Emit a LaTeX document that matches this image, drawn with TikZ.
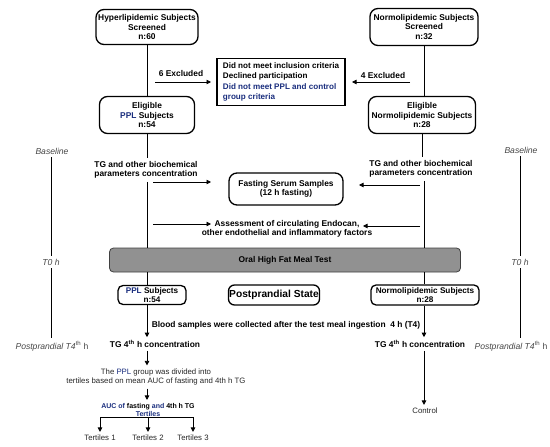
\documentclass[tikz,border=0pt]{standalone}
\usepackage{fontspec}
\setmainfont{Liberation Sans}
\usetikzlibrary{arrows.meta}
\definecolor{navy}{RGB}{25,45,125}
\definecolor{lblgray}{RGB}{70,70,70}
\definecolor{barfill}{RGB}{145,145,145}
\begin{document}
\begin{tikzpicture}[x=1pt,y=-1pt,
  every node/.style={font=\fontsize{8.4}{9.6}\selectfont\bfseries, inner sep=0pt},
  rbox/.style={draw, line width=1.3pt, rounded corners=8pt, align=center},
  sbox/.style={draw, line width=1.3pt, rounded corners=5pt, align=center},
  txt/.style={align=center, inner sep=3pt},
  lbl/.style={font=\fontsize{8.6}{10}\selectfont\itshape, text=lblgray, inner sep=3pt},
  plain/.style={font=\fontsize{7.8}{9.5}\selectfont, align=center, text=black!85, inner sep=3pt},
  conn/.style={line width=0.8pt},
  arr/.style={line width=0.8pt, -{Triangle[width=4.5pt,length=4.5pt]}},
]
\useasboundingbox (0,0) rectangle (550,447);

% axis x positions
\coordinate (lx) at (147,0);
\coordinate (rx) at (424,0);

% top boxes
\node[rbox, minimum width=102pt, minimum height=35pt] (hyper) at (147,27) {Hyperlipidemic Subjects\\Screened\\n:60};
\node[rbox, minimum width=108pt, minimum height=37pt] (normo) at (424,27) {Normolipidemic Subjects\\Screened\\n:32};

% exclusion
\node[draw, line width=1.3pt, minimum width=128pt, minimum height=47pt, inner xsep=4pt, align=left,
      font=\fontsize{8.1}{10.3}\selectfont\bfseries] (excl) at (281,82)
  {Did not meet inclusion criteria\\Declined participation\\\textcolor{navy}{Did not meet PPL and control}\\\textcolor{navy}{group criteria}};
\node (ex6) at (181,73) {6 Excluded};
\node (ex4) at (383,75) {4 Excluded};
\coordinate (e6a) at (155,82); \coordinate (e6b) at (211,82);
\coordinate (e4a) at (410,82); \coordinate (e4b) at (352,82);
\draw[arr] (e6a) -- (e6b);
\draw[arr] (e4a) -- (e4b);

% eligible
\node[rbox, minimum width=95pt, minimum height=37pt] (elig) at (147,115) {Eligible\\\textcolor{navy}{PPL} Subjects\\n:54};
\node[rbox, minimum width=107pt, minimum height=37pt] (eligN) at (422,115) {Eligible\\Normolipidemic Subjects\\n:28};

\draw[conn] (hyper.south) -- (elig.north);
\draw[conn] (normo.south) -- (normo.south |- eligN.north);

% TG text
\node[txt] (tgL) at (146,170) {TG and other biochemical\\parameters concentration};
\node[txt] (tgR) at (421,169) {TG and other biochemical\\parameters concentration};
\draw[conn] (elig.south) -- (elig.south |- tgL.north);
\draw[conn] (eligN.south) -- (eligN.south |- tgR.north);

% fasting
\node[rbox, minimum width=114pt, minimum height=32pt] (fast) at (286,189) {Fasting Serum Samples\\(12 h fasting)};
\coordinate (f1a) at (153,182); \coordinate (f1b) at (211,182);
\coordinate (f2a) at (420,185); \coordinate (f2b) at (359,185);
\draw[arr] (f1a) -- (f1b);
\draw[arr] (f2a) -- (f2b);

\node[txt] (assess) at (287,229) {Assessment of circulating Endocan,\\other endothelial and inflammatory factors};
\coordinate (a1a) at (153,224); \coordinate (a1b) at (211,224);
\coordinate (a2a) at (420,226); \coordinate (a2b) at (363,226);
\draw[arr] (a1a) -- (a1b);
\draw[arr] (a2a) -- (a2b);

% bar
\node[draw=black!75, fill=barfill, rounded corners=4pt, line width=0.8pt, minimum width=351pt, minimum height=24pt] (bar) at (285,260) {Oral High Fat Meal Test};
\draw[conn] (tgL.south -| lx) -- (bar.north -| lx);
\draw[conn] (tgR.south -| rx) -- (bar.north -| rx);

% postprandial boxes
\node[sbox, minimum width=68pt, minimum height=19pt, font=\fontsize{8.2}{9}\selectfont\bfseries] (pplS) at (152,295) {\textcolor{navy}{PPL} Subjects\\n:54};
\node[sbox, rounded corners=6pt, minimum width=91pt, minimum height=20pt, font=\fontsize{10.2}{12}\selectfont\bfseries] (post) at (274,295) {Postprandial State};
\node[sbox, minimum width=108pt, minimum height=20pt, font=\fontsize{8.2}{9}\selectfont\bfseries] (normS) at (425,295) {Normolipidemic Subjects\\n:28};
\draw[conn] (bar.south -| lx) -- (pplS.north -| lx);
\draw[conn] (bar.south -| rx) -- (normS.north -| rx);

\node (blood) at (286,325) {Blood samples were collected after the test meal ingestion\ \ 4 h (T4)};

\node[txt] (tg4L) at (155,344) {TG 4\textsuperscript{th} h concentration};
\node[txt] (tg4R) at (420,344) {TG 4\textsuperscript{th} h concentration};
\draw[arr] (pplS.south -| lx) -- (tg4L.north -| lx);
\draw[arr] (normS.south -| rx) -- (tg4R.north -| rx);

% lower left
\node[plain] (div) at (156,377) {The \textcolor{navy}{PPL} group was divided into\\tertiles based on mean AUC of fasting and 4th h TG};
\draw[arr] (tg4L.south -| lx) -- (div.north -| lx);
\node[txt, font=\fontsize{7}{8.5}\selectfont\bfseries] (auc) at (148,410) {\textcolor{navy}{AUC of} fasting \textcolor{navy}{and} 4th h TG\\\textcolor{navy}{Tertiles}};
\draw[arr] (div.south -| lx) -- (auc.north -| lx);

\node[plain] (t1) at (100,438) {Tertiles 1};
\node[plain] (t2) at (148,438) {Tertiles 2};
\node[plain] (t3) at (193,438) {Tertiles 3};
\coordinate (br) at (148,417);
\draw[conn] (auc.south -| br) -- (br);
\draw[conn] (t1.north |- br) -- (t3.north |- br);
\draw[arr] (t1.north |- br) -- (t1.north);
\draw[arr] (t2.north |- br) -- (t2.north);
\draw[arr] (t3.north |- br) -- (t3.north);

% lower right
\node[plain] (ctrl) at (425,411) {Control};
\draw[arr] (tg4R.south -| rx) -- (ctrl.north -| rx);

% time axes
\node[lbl] (baseL) at (52,151) {Baseline};
\node[lbl] (t0L) at (51,262) {T0 h};
\node[lbl] (postL) at (52,346) {Postprandial T4\textsuperscript{\upshape th} \upshape h};
\draw[line width=0.9pt] (baseL.south -| t0L) -- (t0L.north);
\draw[line width=0.9pt] (t0L.south) -- (t0L.south |- postL.north);

\node[lbl] (baseR) at (521,150) {Baseline};
\node[lbl] (t0R) at (520,262) {T0 h};
\node[lbl] (postR) at (511,346) {Postprandial T4\textsuperscript{\upshape th} \upshape h};
\draw[line width=0.9pt] (baseR.south -| t0R) -- (t0R.north);
\draw[line width=0.9pt] (t0R.south) -- (t0R.south |- postR.north);
\end{tikzpicture}
\end{document}
